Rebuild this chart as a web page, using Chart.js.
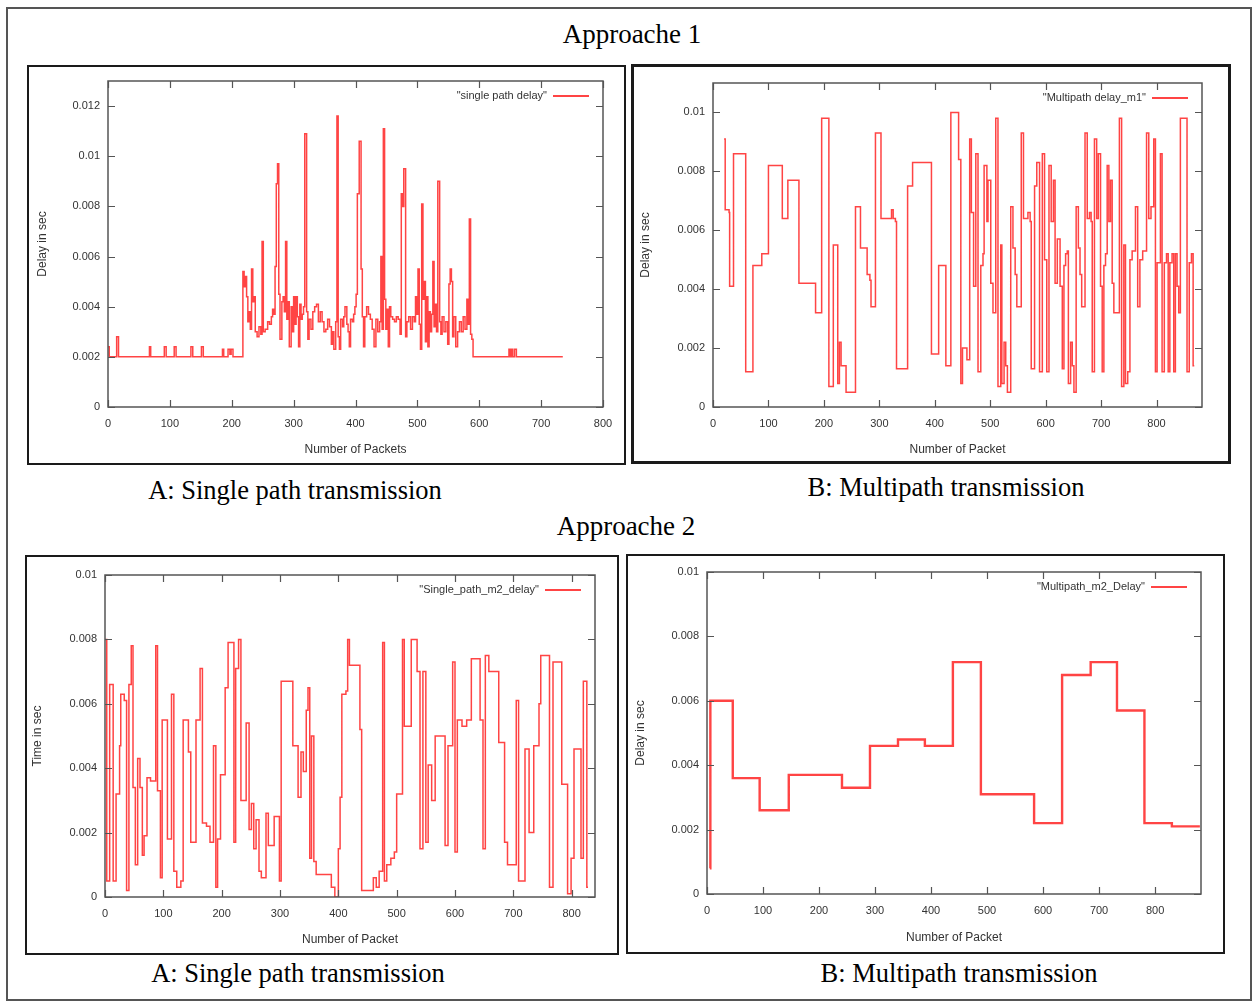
<!DOCTYPE html>
<html>
<head>
<meta charset="utf-8">
<title>Approache 1 / Approache 2</title>
<script src="https://cdn.jsdelivr.net/npm/chart.js@4.4.0/dist/chart.umd.min.js"></script>
<style>
body { margin: 0; background: #fff; }
#page { position: relative; width: 1253px; height: 1002px; overflow: hidden; }
.outer { position: absolute; left: 6px; top: 7px; width: 1246px; height: 994px; border: 2px solid #555; box-sizing: border-box; }
.box { position: absolute; border: 2px solid #1a1a1a; box-sizing: border-box; pointer-events: none; }
.cap { position: absolute; font-family: "Liberation Serif", "Times New Roman", serif; color: #000;
       line-height: 30px; white-space: nowrap; transform: translateX(-50%); }
canvas { position: absolute; }
</style>
</head>
<body>
<div id="page">
  <div class="outer"></div>

  <div class="cap" style="left:632px;top:19px;font-size:27px">Approache 1</div>
  <canvas id="chartA1"></canvas>
  <canvas id="chartB1"></canvas>
  <div class="cap" style="left:295px;top:475px;font-size:26.5px">A: Single path transmission</div>
  <div class="cap" style="left:946px;top:472px;font-size:26.5px">B: Multipath transmission</div>

  <div class="cap" style="left:626px;top:511px;font-size:27px">Approache 2</div>
  <canvas id="chartA2"></canvas>
  <canvas id="chartB2"></canvas>
  <div class="cap" style="left:298px;top:958px;font-size:26.5px">A: Single path transmission</div>
  <div class="cap" style="left:959px;top:958px;font-size:26.5px">B: Multipath transmission</div>
</div>

<script>
// approach 1 - single path delay (packet where the value changes, delay in sec)
const a1Packets = [0, 2, 14, 17, 67, 69, 91, 94, 107, 110,
  134, 137, 151, 154, 185, 187, 194, 197, 199, 202,
  218, 220, 222, 224, 226, 228, 230, 232, 234, 236,
  238, 241, 244, 247, 249, 251, 254, 258, 261, 264,
  266, 268, 270, 272, 274, 276, 278, 281, 283, 285,
  287, 289, 291, 293, 296, 298, 300, 302, 304, 306,
  308, 310, 312, 314, 316, 318, 321, 323, 325, 328,
  331, 334, 337, 340, 343, 346, 349, 352, 355, 358,
  361, 363, 365, 368, 370, 372, 374, 376, 379, 381,
  383, 386, 388, 390, 392, 395, 397, 399, 401, 403,
  406, 409, 411, 413, 415, 418, 421, 424, 427, 430,
  433, 436, 439, 441, 443, 445, 447, 449, 451, 453,
  455, 457, 460, 463, 466, 469, 472, 474, 476, 478,
  481, 483, 486, 489, 492, 495, 497, 499, 501, 503,
  505, 507, 509, 511, 513, 515, 517, 519, 521, 523,
  525, 527, 529, 531, 533, 536, 538, 540, 543, 546,
  549, 551, 553, 555, 557, 559, 562, 565, 568, 571,
  574, 577, 580, 582, 584, 586, 588, 590, 648, 650,
  652, 654, 657, 660, 735];
const a1Delay = [0.0024, 0.0020, 0.0028, 0.0020, 0.0024, 0.0020, 0.0024, 0.0020, 0.0024, 0.0020,
  0.0024, 0.0020, 0.0024, 0.0020, 0.0023, 0.0020, 0.0023, 0.0021, 0.0023, 0.0020,
  0.0054, 0.0048, 0.0052, 0.0044, 0.0034, 0.0038, 0.0031, 0.0055, 0.0042, 0.0044,
  0.0030, 0.0028, 0.0032, 0.0029, 0.0066, 0.0030, 0.0031, 0.0034, 0.0033, 0.0036,
  0.0039, 0.0037, 0.0056, 0.0089, 0.0097, 0.0045, 0.0027, 0.0042, 0.0044, 0.0038,
  0.0066, 0.0035, 0.0042, 0.0024, 0.0040, 0.0030, 0.0044, 0.0033, 0.0044, 0.0036,
  0.0024, 0.0041, 0.0035, 0.0037, 0.0040, 0.0109, 0.0038, 0.0027, 0.0035, 0.0031,
  0.0038, 0.0040, 0.0041, 0.0034, 0.0038, 0.0034, 0.0030, 0.0031, 0.0035, 0.0032,
  0.0025, 0.0030, 0.0023, 0.0034, 0.0116, 0.0028, 0.0023, 0.0035, 0.0032, 0.0036,
  0.0040, 0.0033, 0.0030, 0.0024, 0.0035, 0.0034, 0.0037, 0.0040, 0.0045, 0.0085,
  0.0106, 0.0055, 0.0036, 0.0024, 0.0036, 0.0040, 0.0037, 0.0035, 0.0031, 0.0024,
  0.0035, 0.0030, 0.0034, 0.0060, 0.0031, 0.0111, 0.0043, 0.0031, 0.0039, 0.0024,
  0.0040, 0.0036, 0.0035, 0.0034, 0.0036, 0.0035, 0.0029, 0.0085, 0.0080, 0.0095,
  0.0028, 0.0034, 0.0036, 0.0031, 0.0036, 0.0034, 0.0044, 0.0037, 0.0055, 0.0033,
  0.0023, 0.0081, 0.0043, 0.0050, 0.0026, 0.0044, 0.0024, 0.0038, 0.0030, 0.0037,
  0.0058, 0.0032, 0.0041, 0.0030, 0.0090, 0.0034, 0.0029, 0.0036, 0.0030, 0.0034,
  0.0025, 0.0049, 0.0055, 0.0050, 0.0028, 0.0036, 0.0024, 0.0030, 0.0034, 0.0030,
  0.0036, 0.0031, 0.0043, 0.0033, 0.0075, 0.0029, 0.0027, 0.0020, 0.0023, 0.0020,
  0.0023, 0.0020, 0.0023, 0.0020, 0.0020];

// approach 1 - multipath delay m1
const b1Packets = [20, 22, 29, 30, 37, 59, 72, 88, 100, 125,
  135, 155, 185, 196, 209, 217, 225, 228, 231, 240,
  257, 266, 278, 283, 285, 293, 303, 322, 325, 329,
  331, 351, 360, 394, 407, 420, 429, 443, 447, 450,
  458, 463, 466, 470, 474, 478, 483, 487, 489, 494,
  496, 501, 505, 510, 514, 519, 521, 525, 528, 531,
  537, 541, 545, 548, 556, 560, 568, 572, 574, 580,
  584, 589, 594, 598, 602, 606, 610, 614, 617, 621,
  626, 630, 633, 636, 639, 641, 645, 648, 651, 655,
  659, 662, 665, 671, 675, 679, 682, 684, 688, 692,
  695, 699, 702, 705, 708, 711, 714, 717, 720, 723,
  733, 737, 741, 744, 748, 752, 756, 762, 766, 770,
  775, 782, 786, 790, 795, 798, 801, 807, 810, 814,
  818, 821, 824, 828, 831, 834, 837, 840, 843, 855,
  859, 863, 866, 868];
const b1Delay = [0.0091, 0.0067, 0.0066, 0.0041, 0.0086, 0.0012, 0.0048, 0.0052, 0.0082, 0.0064,
  0.0077, 0.0042, 0.0032, 0.0098, 0.0007, 0.0055, 0.0008, 0.0022, 0.0014, 0.0005,
  0.0068, 0.0054, 0.0045, 0.0043, 0.0034, 0.0093, 0.0064, 0.0067, 0.0064, 0.0063,
  0.0013, 0.0075, 0.0083, 0.0018, 0.0048, 0.0014, 0.0100, 0.0084, 0.0008, 0.0020,
  0.0016, 0.0091, 0.0066, 0.0041, 0.0086, 0.0012, 0.0048, 0.0052, 0.0082, 0.0063,
  0.0077, 0.0042, 0.0032, 0.0098, 0.0007, 0.0055, 0.0008, 0.0022, 0.0014, 0.0005,
  0.0068, 0.0054, 0.0045, 0.0034, 0.0093, 0.0064, 0.0066, 0.0063, 0.0013, 0.0075,
  0.0083, 0.0012, 0.0086, 0.0050, 0.0012, 0.0082, 0.0063, 0.0077, 0.0042, 0.0057,
  0.0041, 0.0013, 0.0048, 0.0052, 0.0053, 0.0008, 0.0022, 0.0014, 0.0005, 0.0068,
  0.0054, 0.0045, 0.0034, 0.0093, 0.0064, 0.0066, 0.0063, 0.0012, 0.0091, 0.0064,
  0.0086, 0.0041, 0.0012, 0.0048, 0.0052, 0.0082, 0.0063, 0.0077, 0.0042, 0.0032,
  0.0098, 0.0007, 0.0055, 0.0008, 0.0012, 0.0050, 0.0053, 0.0068, 0.0034, 0.0050,
  0.0053, 0.0093, 0.0064, 0.0068, 0.0091, 0.0012, 0.0049, 0.0086, 0.0012, 0.0049,
  0.0052, 0.0012, 0.0049, 0.0052, 0.0012, 0.0052, 0.0041, 0.0032, 0.0098, 0.0012,
  0.0049, 0.0052, 0.0014, 0.0014];

// approach 2 - single path m2 (time in sec)
const a2Packets = [0, 3, 8, 14, 19, 25, 27, 33, 37, 41,
  45, 48, 52, 56, 60, 64, 67, 72, 78, 87,
  90, 95, 98, 107, 114, 118, 123, 130, 134, 143,
  147, 156, 163, 167, 174, 180, 186, 190, 193, 198,
  206, 211, 221, 224, 229, 233, 242, 247, 251, 255,
  259, 264, 268, 276, 280, 290, 299, 302, 322, 331,
  336, 340, 345, 348, 351, 354, 358, 362, 388, 394,
  400, 403, 406, 413, 416, 419, 437, 440, 460, 465,
  470, 476, 479, 483, 490, 496, 500, 510, 513, 525,
  535, 540, 545, 550, 554, 560, 566, 583, 588, 596,
  600, 604, 612, 620, 628, 643, 648, 652, 658, 675,
  685, 690, 705, 709, 720, 727, 735, 744, 747, 762,
  768, 783, 793, 799, 804, 816, 820, 826, 828];
const a2Time = [0.0080, 0.0005, 0.0066, 0.0005, 0.0032, 0.0047, 0.0063, 0.0061, 0.0002, 0.0066,
  0.0078, 0.0034, 0.0010, 0.0043, 0.0034, 0.0013, 0.0019, 0.0037, 0.0036, 0.0078,
  0.0033, 0.0006, 0.0055, 0.0018, 0.0063, 0.0008, 0.0003, 0.0005, 0.0055, 0.0045,
  0.0017, 0.0055, 0.0071, 0.0023, 0.0022, 0.0017, 0.0047, 0.0003, 0.0018, 0.0038,
  0.0065, 0.0079, 0.0017, 0.0071, 0.0080, 0.0030, 0.0054, 0.0021, 0.0029, 0.0015,
  0.0024, 0.0008, 0.0006, 0.0026, 0.0016, 0.0025, 0.0005, 0.0067, 0.0047, 0.0031,
  0.0045, 0.0039, 0.0058, 0.0065, 0.0012, 0.0050, 0.0011, 0.0007, 0.0003, 0.0000,
  0.0015, 0.0031, 0.0063, 0.0064, 0.0080, 0.0072, 0.0052, 0.0002, 0.0006, 0.0003,
  0.0008, 0.0079, 0.0005, 0.0010, 0.0012, 0.0014, 0.0032, 0.0080, 0.0053, 0.0080,
  0.0070, 0.0015, 0.0070, 0.0017, 0.0041, 0.0030, 0.0050, 0.0016, 0.0047, 0.0073,
  0.0014, 0.0055, 0.0053, 0.0055, 0.0074, 0.0055, 0.0015, 0.0075, 0.0070, 0.0048,
  0.0017, 0.0010, 0.0061, 0.0005, 0.0046, 0.0020, 0.0047, 0.0060, 0.0075, 0.0003,
  0.0073, 0.0035, 0.0001, 0.0012, 0.0046, 0.0012, 0.0067, 0.0003, 0.0003];

// approach 2 - multipath m2
const b2Packets = [5, 6, 46, 94, 146, 241, 291, 341, 389, 439, 489, 584, 634, 685, 732, 781, 830, 880];
const b2Delay = [0.0008, 0.0060, 0.0036, 0.0026, 0.0037, 0.0033, 0.0046, 0.0048, 0.0046, 0.0072,
  0.0031, 0.0022, 0.0068, 0.0072, 0.0057, 0.0022, 0.0021, 0.0021];

const xStep = 100;
const yStep = 0.002;

// where each panel sits on the page: box = outer frame, plot = gnuplot axes frame
var panels = [
  { id: 'chartA1', packets: a1Packets, values: a1Delay, key: '"single path delay"',
    yTitle: 'Delay in sec', xTitle: 'Number of Packets', xMax: 800, yMax: 0.013,
    box: { l: 27, t: 65, r: 626, b: 465 }, plot: { l: 108, t: 81, r: 603, b: 407 },
    yTitlePad: 8, xTitlePad: 8, lineWidth: 1.5, border: 2 },
  { id: 'chartB1', packets: b1Packets, values: b1Delay, key: '"Multipath delay_m1"',
    yTitle: 'Delay in sec', xTitle: 'Number of Packet', xMax: 882, yMax: 0.011,
    box: { l: 631, t: 64, r: 1231, b: 464 }, plot: { l: 713, t: 83, r: 1202, b: 407 },
    yTitlePad: 7, xTitlePad: 7, lineWidth: 1.5, border: 3 },
  { id: 'chartA2', packets: a2Packets, values: a2Time, key: '"Single_path_m2_delay"',
    yTitle: 'Time in sec', xTitle: 'Number of Packet', xMax: 840, yMax: 0.01,
    box: { l: 25, t: 555, r: 619, b: 955 }, plot: { l: 105, t: 575, r: 595, b: 897 },
    yTitlePad: 5, xTitlePad: 8, lineWidth: 1.5, border: 2 },
  { id: 'chartB2', packets: b2Packets, values: b2Delay, key: '"Multipath_m2_Delay"',
    yTitle: 'Delay in sec', xTitle: 'Number of Packet', xMax: 882, yMax: 0.01,
    box: { l: 626, t: 554, r: 1225, b: 954 }, plot: { l: 707, t: 572, r: 1201, b: 894 },
    yTitlePad: 7, xTitlePad: 9, lineWidth: 2.4, border: 2 }
];

// gnuplot style frame with inward ticks on all sides, plus the key in the top right corner
var gnuFrame = {
  id: 'gnuFrame',
  afterDatasetsDraw: function(chart) {
    var ctx = chart.ctx;
    var a = chart.chartArea;
    var sx = chart.scales.x, sy = chart.scales.y;
    ctx.save();
    ctx.strokeStyle = '#555';
    ctx.lineWidth = 1.5;
    ctx.strokeRect(a.left, a.top, a.right - a.left, a.bottom - a.top);
    ctx.lineWidth = 1.2;
    ctx.beginPath();
    sx.ticks.forEach(function(t) {
      var px = Math.round(sx.getPixelForValue(t.value)) + 0.5;
      ctx.moveTo(px, a.bottom); ctx.lineTo(px, a.bottom - 7);
      ctx.moveTo(px, a.top); ctx.lineTo(px, a.top + 7);
    });
    sy.ticks.forEach(function(t) {
      var py = Math.round(sy.getPixelForValue(t.value)) + 0.5;
      ctx.moveTo(a.left, py); ctx.lineTo(a.left + 7, py);
      ctx.moveTo(a.right, py); ctx.lineTo(a.right - 7, py);
    });
    ctx.stroke();

    var ds = chart.data.datasets[0];
    var ky = a.top + 15;
    var x2 = a.right - 14, x1 = x2 - 36;
    ctx.strokeStyle = ds.borderColor;
    ctx.lineWidth = 2;
    ctx.beginPath();
    ctx.moveTo(x1, ky); ctx.lineTo(x2, ky);
    ctx.stroke();
    ctx.fillStyle = '#333';
    ctx.font = '11px "Liberation Sans", Arial, sans-serif';
    ctx.textAlign = 'right';
    ctx.textBaseline = 'middle';
    ctx.fillText(ds.label, x1 - 6, ky);
    ctx.restore();
  }
};

function tickText(v) {
  return String(+(+v).toFixed(4));
}

function makePanel(p) {
  var canvas = document.getElementById(p.id);
  var w = p.box.r - p.box.l, h = p.box.b - p.box.t;
  canvas.width = w;
  canvas.height = h;
  canvas.style.left = p.box.l + 'px';
  canvas.style.top = p.box.t + 'px';

  var frame = document.createElement('div');
  frame.className = 'box';
  frame.style.left = p.box.l + 'px';
  frame.style.top = p.box.t + 'px';
  frame.style.width = w + 'px';
  frame.style.height = h + 'px';
  frame.style.borderWidth = p.border + 'px';
  document.getElementById('page').appendChild(frame);

  var points = [];
  for (let i = 0; i < p.packets.length; i++) {
    points.push({ x: p.packets[i], y: p.values[i] });
  }

  var tickFont = { family: '"Liberation Sans", Arial, sans-serif', size: 11 };
  var titleFont = { family: '"Liberation Sans", Arial, sans-serif', size: 12 };

  new Chart(canvas, {
    type: 'line',
    data: {
      datasets: [{
        label: p.key,
        data: points,
        borderColor: 'rgba(255,35,35,0.85)',
        borderWidth: p.lineWidth,
        pointRadius: 0,
        stepped: true,
        fill: false
      }]
    },
    options: {
      responsive: false,
      animation: false,
      devicePixelRatio: 1,
      layout: { padding: { top: p.plot.t - p.box.t, right: p.box.r - p.plot.r, left: 0, bottom: 0 } },
      plugins: { legend: { display: false }, tooltip: { enabled: false } },
      scales: {
        x: {
          type: 'linear', min: 0, max: p.xMax,
          grid: { display: false, drawTicks: false },
          border: { display: false },
          ticks: { stepSize: xStep, includeBounds: false, padding: 10, color: '#333', font: tickFont,
                   maxRotation: 0, autoSkip: false, callback: tickText },
          title: { display: true, text: p.xTitle, color: '#333', font: titleFont,
                   padding: { top: 0, bottom: p.xTitlePad } },
          afterFit: function(s) { s.height = p.box.b - p.plot.b; }
        },
        y: {
          type: 'linear', min: 0, max: p.yMax,
          grid: { display: false, drawTicks: false },
          border: { display: false },
          ticks: { stepSize: yStep, includeBounds: false, padding: 8, color: '#333', font: tickFont,
                   callback: tickText },
          title: { display: true, text: p.yTitle, color: '#333', font: titleFont,
                   padding: { top: p.yTitlePad, bottom: 0 } },
          afterFit: function(s) { s.width = p.plot.l - p.box.l; }
        }
      }
    },
    plugins: [gnuFrame]
  });
}

panels.forEach(makePanel);
</script>
</body>
</html>
